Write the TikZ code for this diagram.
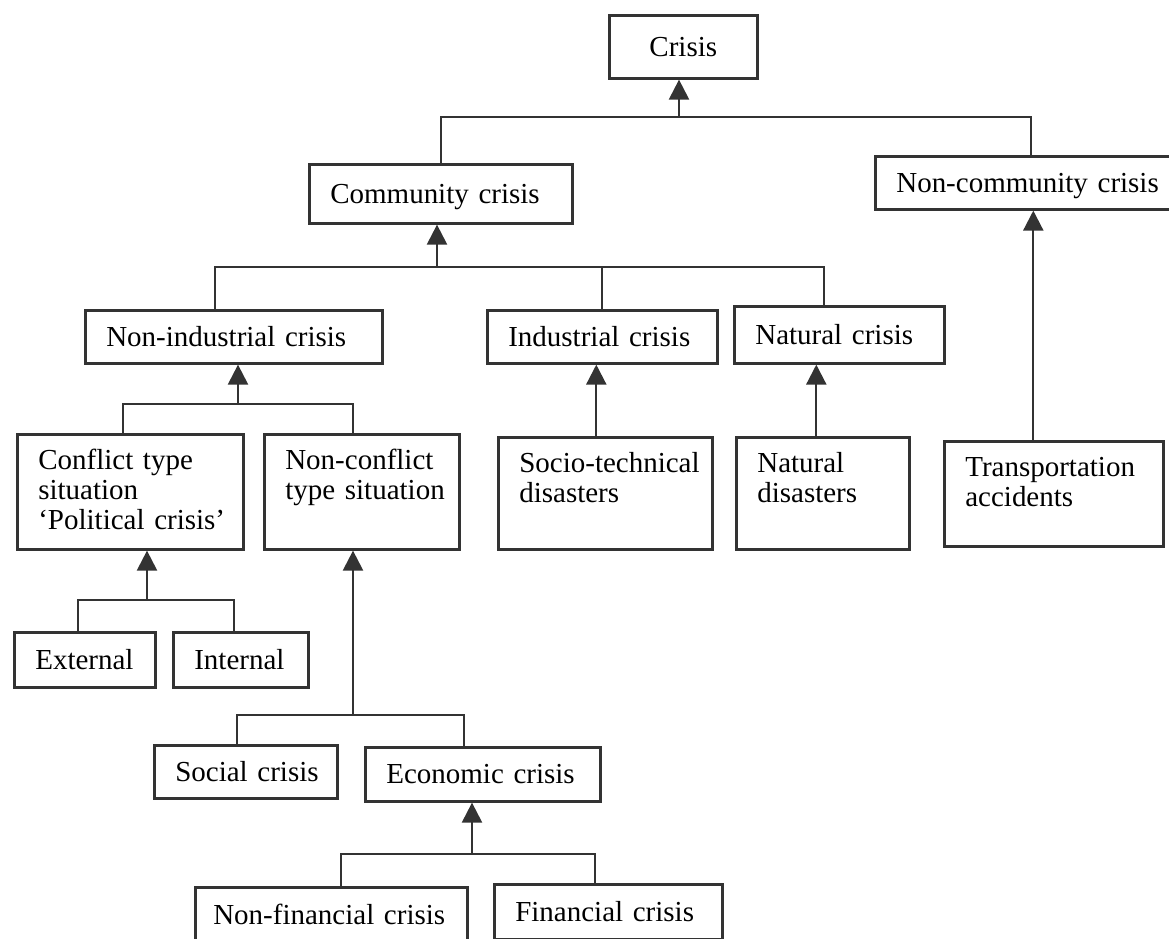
\documentclass[tikz,border=0pt]{standalone}
\usepackage{fontspec}
\setmainfont{Liberation Serif}
\usetikzlibrary{arrows.meta}
\definecolor{linegray}{HTML}{333333}
\exhyphenpenalty=10000
\hyphenpenalty=10000

\begin{document}
\begin{tikzpicture}[x=0.02cm, y=-0.02cm,
        box/.style={rectangle, draw=linegray, line width=1.5pt, anchor=north west,
            align=left, inner xsep=0.42cm, text height=0.385cm, text depth=0pt,
            font=\fontsize{16.5}{17}\selectfont},
        tallbox/.style={box, inner ysep=0.28cm, text height=0.42cm},
        link/.style={draw=linegray, line width=1.3pt},
        arr/.style={link, -{Triangle[width=0.4cm, length=0.4cm]}}]
        \useasboundingbox (0,0) rectangle (1169,938);
        \clip (0,0) rectangle (1169,938);

        % Top level
        \node[box, align=center, text width=2.12cm, minimum height=1.26cm] (crisis) at (608,14) {Crisis};
        \node[box, text width=4.42cm, minimum height=1.18cm] (comm) at (308,163) {Community~crisis};
        \node[box, text width=5.40cm, minimum height=1.06cm] (noncomm) at (874,155) {Non-community~crisis};

        % Kinds of community crisis
        \node[box, text width=5.10cm, minimum height=1.06cm] (nonind) at (84,309) {Non-industrial~crisis};
        \node[box, text width=3.76cm, minimum height=1.06cm] (ind) at (486,309) {Industrial~crisis};
        \node[box, text width=3.36cm, minimum height=1.14cm] (nat) at (733,305) {Natural~crisis};

        % Situations and disasters
        \node[tallbox, text width=3.68cm, text depth=1.32cm] (conflict) at (16,433) {Conflict~type\\situation\\‘Political~crisis’};
        \node[tallbox, text width=3.06cm, text depth=1.32cm] (nonconf) at (263,433) {Non-conflict\\type~situation};
        \node[tallbox, text width=3.44cm, text depth=1.26cm] (socio) at (497,436) {Socio-technical\\disasters};
        \node[tallbox, text width=2.62cm, text depth=1.26cm] (natdis) at (735,436) {Natural\\disasters};
        \node[tallbox, text width=3.54cm, text depth=1.12cm] (transp) at (943,440) {Transportation\\accidents};

        % Political crisis
        \node[box, text width=1.98cm, minimum height=1.10cm] (ext) at (13,631) {External};
        \node[box, text width=1.86cm, minimum height=1.10cm] (int) at (172,631) {Internal};

        % Non-conflict situation
        \node[box, text width=2.82cm, minimum height=1.06cm] (social) at (153,744) {Social~crisis};
        \node[box, text width=3.86cm, minimum height=1.08cm] (econ) at (364,746) {Economic~crisis};

        % Economic crisis
        \node[box, text width=4.72cm, inner xsep=0.36cm, minimum height=1.10cm] (nonfin) at (194,886) {Non-financial~crisis};
        \node[box, text width=3.72cm, minimum height=1.10cm] (fin) at (493,883) {Financial~crisis};

        % Connections
        \coordinate (j0) at (679,117);
        \draw[arr] (j0) -- (j0 |- crisis.south);
        \draw[link] (comm.north) |- (j0) -| (noncomm.north);

        \coordinate (j1) at (437,267);
        \draw[arr] (j1) -- (j1 |- comm.south);
        \draw[link] ([xshift=-0.38cm]nonind.north) |- (j1) -| ([xshift=-0.3cm]nat.north);
        \draw[link] (ind.north) -- (ind.north |- j1);

        \draw[arr] ([xshift=-0.41cm]transp.north) -- ([xshift=-0.41cm]transp.north |- noncomm.south);
        \draw[arr] ([xshift=-0.18cm]socio.north) -- ([xshift=-0.18cm]socio.north |- ind.south);
        \draw[arr] ([xshift=-0.13cm]natdis.north) -- ([xshift=-0.13cm]natdis.north |- nat.south);

        \coordinate (j2) at (238,404);
        \draw[arr] (j2) -- (j2 |- nonind.south);
        \draw[link] ([xshift=-0.14cm]conflict.north) |- (j2) -| ([xshift=-0.17cm]nonconf.north);

        \coordinate (j3) at (147,600);
        \draw[arr] (j3) -- (j3 |- conflict.south);
        \draw[link] ([xshift=-0.13cm]ext.north) |- (j3) -| ([xshift=-0.13cm]int.north);

        \coordinate (j4) at (353,715);
        \draw[arr] (j4) -- (j4 |- nonconf.south);
        \draw[link] ([xshift=-0.17cm]social.north) |- (j4) -| ([xshift=-0.37cm]econ.north);

        \coordinate (j5) at (472,854);
        \draw[arr] (j5) -- (j5 |- econ.south);
        \draw[link] ([xshift=0.2cm]nonfin.north) |- (j5) -| ([xshift=-0.26cm]fin.north);
\end{tikzpicture}
\end{document}
